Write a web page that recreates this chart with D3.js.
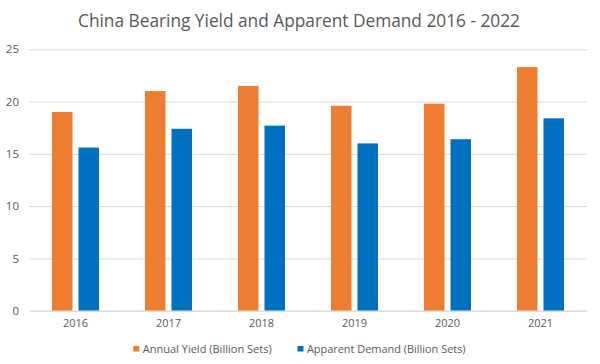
<!DOCTYPE html>
<html><head><meta charset="utf-8">
<script src="https://cdn.jsdelivr.net/npm/d3@7"></script>
<style>body{margin:0;background:#fff}svg{display:block}</style>
</head><body>
<script>
const years = ["2016","2017","2018","2019","2020","2021"];
const seriesNames = ["Annual Yield (Billion Sets)","Apparent Demand (Billion Sets)"];
const annualYield = [19.0, 21.0, 21.5, 19.6, 19.8, 23.3];
const apparentDemand = [15.6, 17.4, 17.7, 16.0, 16.4, 18.4];
const yTicks = [0,5,10,15,20,25];
const colors = ["#ED7D31","#0070C0"];
const title = "China Bearing Yield and Apparent Demand 2016 - 2022";

(function(){
const W=600,H=364;
const font = "'Open Sans', 'Noto Sans', sans-serif";
const svg = d3.select("body").append("svg").attr("width",W).attr("height",H);
const mLeft=29,mRight=587,mTop=49.3,mBottom=310.7;
const y = d3.scaleLinear().domain([0,25]).range([mBottom,mTop]);
const x0 = d3.scaleBand().domain(years).range([mLeft,mRight]).padding(0);
const x1 = d3.scaleBand().domain(seriesNames).range([0,x0.bandwidth()]).paddingInner(0.226).paddingOuter(0.868);

const yAxis = d3.axisLeft(y).tickValues(yTicks).tickSize(-(mRight-mLeft)).tickPadding(10);
const gy = svg.append("g").attr("transform",`translate(${mLeft},0)`).call(yAxis);
gy.select(".domain").remove();
gy.selectAll(".tick line").attr("stroke","#d9d9d9").attr("stroke-width",1);
gy.selectAll(".tick text").attr("fill","#595959").style("font-family",font).style("font-size","11.5px");

const data = years.map((yr,i)=>({year:yr, vals:[annualYield[i], apparentDemand[i]]}));
const g = svg.append("g");
g.selectAll("g.cat").data(data).join("g").attr("class","cat")
 .attr("transform",d=>`translate(${x0(d.year)},0)`)
 .selectAll("rect").data(d=>d.vals.map((v,j)=>({v,s:seriesNames[j],j})))
 .join("rect")
 .attr("x",d=>x1(d.s)).attr("width",x1.bandwidth())
 .attr("y",d=>y(d.v)).attr("height",d=>y(0)-y(d.v))
 .attr("fill",d=>colors[d.j]);

const xAxis = d3.axisBottom(x0).tickSize(0).tickPadding(9);
const gx = svg.append("g").attr("transform",`translate(0,${mBottom})`).call(xAxis);
gx.select(".domain").attr("stroke","#d9d9d9");
gx.selectAll(".tick text").attr("fill","#595959").style("font-family",font).style("font-size","11px");

svg.append("text").attr("x",299).attr("y",27).attr("text-anchor","middle")
 .attr("fill","#595959").style("font-family",font).style("font-size","18px")
 .attr("textLength",442).attr("lengthAdjust","spacingAndGlyphs").text(title);

const legX=[133.3,297.5];
const legW=[129,158.7];
const lg = svg.append("g");
seriesNames.forEach((s,i)=>{
  lg.append("rect").attr("x",legX[i]).attr("y",346).attr("width",6).attr("height",5.5).attr("fill",colors[i]);
  lg.append("text").attr("x",legX[i]+9.4).attr("y",352.7).attr("fill","#595959")
   .style("font-family",font).style("font-size","11.5px")
   .attr("textLength",legW[i]).attr("lengthAdjust","spacingAndGlyphs").text(s);
});
})();
</script>
</body></html>
